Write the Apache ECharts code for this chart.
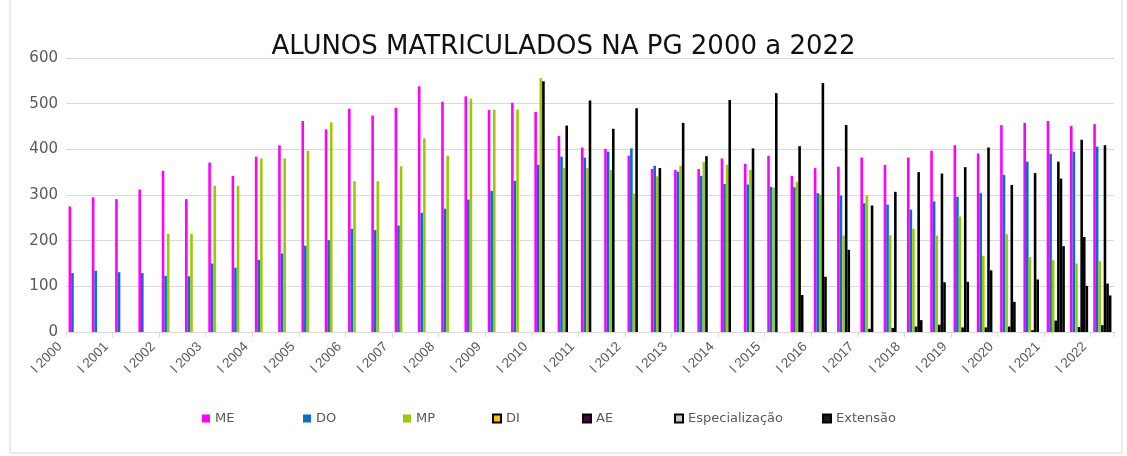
<!DOCTYPE html>
<html><head><meta charset="utf-8">
<script src="https://cdn.jsdelivr.net/npm/echarts@6/dist/echarts.min.js"></script>
<style>html,body{margin:0;padding:0;background:#fff}#c{width:1127px;height:456px}</style>
</head><body><div id="c"></div>
<script>
const categories = [
 'I 2000','II 2000','I 2001','II 2001','I 2002','II 2002','I 2003','II 2003','I 2004','II 2004',
 'I 2005','II 2005','I 2006','II 2006','I 2007','II 2007','I 2008','II 2008','I 2009','II 2009',
 'I 2010','II 2010','I 2011','II 2011','I 2012','II 2012','I 2013','II 2013','I 2014','II 2014',
 'I 2015','II 2015','I 2016','II 2016','I 2017','II 2017','I 2018','II 2018','I 2019','II 2019',
 'I 2020','II 2020','I 2021','II 2021','I 2022'];
const ME = [275,295,291,312,353,291,371,342,384,409,462,444,489,474,491,538,504,516,486,502,
 482,429,404,401,386,357,355,357,380,368,386,342,359,362,382,366,382,397,409,391,453,458,462,451,455];
const DO = [129,134,131,129,123,122,150,141,158,172,189,201,226,223,233,261,270,290,309,331,
 366,384,382,395,402,364,351,342,324,323,318,317,304,299,282,279,268,286,296,304,344,373,390,395,406];
const MP = [null,null,null,null,215,215,320,320,380,380,397,459,330,330,363,424,386,511,487,487,
 556,359,359,355,303,341,364,372,366,355,316,329,301,211,299,212,226,211,253,167,214,164,157,150,155];
const DI = [null,null,null,null,null,null,null,null,null,null,null,null,null,null,null,null,null,null,null,null,
 549,452,507,445,490,359,458,385,508,402,523,407,545,453,7,9,12,16,10,10,12,4,25,11,15];
const AE = [null,null,null,null,null,null,null,null,null,null,null,null,null,null,null,null,null,null,null,null,
 null,null,null,null,null,null,null,null,null,null,null,81,121,180,277,307,350,347,361,404,322,348,373,421,409];
const ESP = [null,null,null,null,null,null,null,null,null,null,null,null,null,null,null,null,null,null,null,null,
 null,null,null,null,null,null,null,null,null,null,null,null,null,null,null,null,26,109,110,135,66,115,336,208,106];
const EXT = [null,null,null,null,null,null,null,null,null,null,null,null,null,null,null,null,null,null,null,null,
 null,null,null,null,null,null,null,null,null,null,null,null,null,null,null,null,null,null,null,null,null,null,188,101,80];

const seriesDefs = [
 {name:'ME', data:ME, color:'#FF00FF', border:null},
 {name:'DO', data:DO, color:'#0A6CCB', border:null},
 {name:'MP', data:MP, color:'#99CC00', border:null},
 {name:'DI', data:DI, color:'#FFC000', border:'#000000'},
 {name:'AE', data:AE, color:'#4A0047', border:'#000000'},
 {name:'Especialização', data:ESP, color:'#C8C8C8', border:'#000000'},
 {name:'Extensão', data:EXT, color:'#1A1A1A', border:'#000000'}
];
const legendX = [197,298,398,487,577,669,817];

const chart = echarts.init(document.getElementById('c'));
const option = {
 animation:false,
 backgroundColor:'#fff',
 textStyle:{fontFamily:'DejaVu Sans'},
 title:{text:'ALUNOS MATRICULADOS NA PG 2000 a 2022', left:'center', top:29,
   textStyle:{fontFamily:'DejaVu Sans', fontSize:26, fontWeight:'normal', color:'#111'}},
 grid:{left:66, right:13, top:58, bottom:124},
 xAxis:{type:'category', data:categories,
   axisLine:{lineStyle:{color:'#d9d9d9'}},
   axisTick:{show:true, length:5, lineStyle:{color:'#d9d9d9'}},
   axisLabel:{interval:1, rotate:45, margin:-5, formatter:v=>'{a|'+v+'}',
     rich:{a:{fontFamily:'Liberation Sans', fontSize:13.5, color:'#595959', padding:[0,25,0,0]}}}},
 yAxis:{type:'value', min:0, max:600, interval:100,
   axisLine:{show:false}, axisTick:{show:false},
   axisLabel:{fontSize:15, color:'#595959', margin:8},
   splitLine:{lineStyle:{color:'#d9d9d9'}}},
 legend: seriesDefs.map((s,i)=>({data:[s.name], left:legendX[i], top:407, itemWidth:8, itemHeight:8,
   itemGap:0, icon:'rect', textStyle:{fontSize:13, color:'#595959'}})),
 graphic:[{type:'rect', shape:{x:10, y:-2, width:1112, height:455}, style:{fill:null, stroke:'#d9d9d9', lineWidth:1}, silent:true}],
 series: seriesDefs.map(s=>({name:s.name, type:'bar', data:s.data, barGap:0, barCategoryGap:'22%',
   itemStyle:{color:s.color, borderColor:s.border||s.color, borderWidth:s.border?1.5:0}}))
};
chart.setOption(option);
</script></body></html>
